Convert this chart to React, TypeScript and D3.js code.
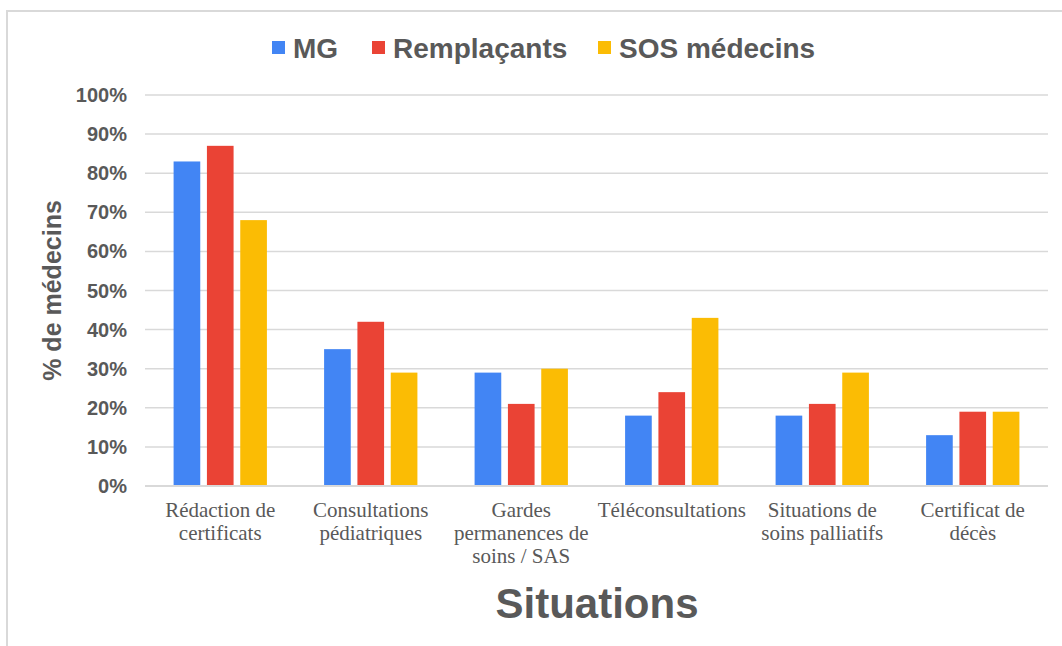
import React, { useRef, useEffect } from "react";
import * as d3 from "d3";

// data
const categories = [
  ["Rédaction de", "certificats"],
  ["Consultations", "pédiatriques"],
  ["Gardes", "permanences de", "soins / SAS"],
  ["Téléconsultations"],
  ["Situations de", "soins palliatifs"],
  ["Certificat de", "décès"],
];
const seriesNames = ["MG", "Remplaçants", "SOS médecins"];
const mgValues = [83, 35, 29, 18, 18, 13];
const remplacantsValues = [87, 42, 21, 24, 21, 19];
const sosValues = [68, 29, 30, 43, 29, 19];
const yTicks = [0, 10, 20, 30, 40, 50, 60, 70, 80, 90, 100];
const colors = ["#4285F4", "#EA4335", "#FBBC04"];

const W = 1062, H = 646;
const margin = { left: 145, right: 14, top: 95, bottom: 160 };

const App = () => {
  const svgRef = useRef(null);

  useEffect(() => {
    const svg = d3.select(svgRef.current);
    svg.selectAll("*").remove();
    const series = [mgValues, remplacantsValues, sosValues];
    const x0 = d3.scaleBand()
      .domain(d3.range(categories.length).map(String))
      .range([margin.left, W - margin.right])
      .paddingInner(0.38)
      .paddingOuter(0.19);
    const x1 = d3.scaleBand()
      .domain(d3.range(series.length).map(String))
      .range([0, x0.bandwidth()])
      .paddingInner(0.2);
    const y = d3.scaleLinear().domain([0, 100]).range([H - margin.bottom, margin.top]);

    // frame
    svg.append("path")
      .attr("d", `M7,${H} V11 H${W}`)
      .attr("fill", "none")
      .attr("stroke", "#d9d9d9")
      .attr("stroke-width", 2);

    // grid
    svg.append("g").selectAll("line")
      .data(yTicks)
      .enter().append("line")
      .attr("x1", margin.left).attr("x2", W - margin.right)
      .attr("y1", d => y(d)).attr("y2", d => y(d))
      .attr("stroke", "#d9d9d9").attr("stroke-width", d => d === 0 ? 2 : 1.5);

    svg.append("g").selectAll("text")
      .data(yTicks)
      .enter().append("text")
      .attr("x", 127).attr("y", d => y(d))
      .attr("dy", "0.35em")
      .attr("text-anchor", "end")
      .attr("font-family", "Liberation Sans, Arial, sans-serif")
      .attr("font-weight", "bold")
      .attr("font-size", 20)
      .attr("fill", "#595959")
      .text(d => d + "%");

    // bars
    const groups = svg.append("g").selectAll("g")
      .data(categories)
      .enter().append("g")
      .attr("transform", (d, i) => `translate(${x0(String(i))},0)`);
    groups.selectAll("rect")
      .data((d, i) => series.map((s, j) => ({ j, v: s[i] })))
      .enter().append("rect")
      .attr("x", d => x1(String(d.j)))
      .attr("width", x1.bandwidth())
      .attr("y", d => y(d.v))
      .attr("height", d => y(0) - y(d.v) - 1)
      .attr("fill", d => colors[d.j]);

    // category labels
    groups.append("text")
      .attr("x", x0.bandwidth() / 2)
      .attr("y", 517)
      .attr("text-anchor", "middle")
      .attr("font-family", "Liberation Serif, Times New Roman, serif")
      .attr("font-size", 21)
      .attr("fill", "#595959")
      .selectAll("tspan")
      .data(d => d)
      .enter().append("tspan")
      .attr("x", x0.bandwidth() / 2)
      .attr("dy", (d, i) => i === 0 ? 0 : 23)
      .text(d => d);

    // axis titles
    svg.append("text")
      .attr("transform", `translate(61,${(y(0) + y(100)) / 2}) rotate(-90)`)
      .attr("text-anchor", "middle")
      .attr("font-family", "Liberation Sans, Arial, sans-serif")
      .attr("font-weight", "bold")
      .attr("font-size", 25)
      .attr("fill", "#595959")
      .text("% de médecins");

    svg.append("text")
      .attr("x", 597).attr("y", 618)
      .attr("text-anchor", "middle")
      .attr("font-family", "Liberation Sans, Arial, sans-serif")
      .attr("font-weight", "bold")
      .attr("font-size", 42)
      .attr("fill", "#595959")
      .text("Situations");

    // legend
    const legendX = [272, 372, 598];
    const legend = svg.append("g").selectAll("g")
      .data(seriesNames)
      .enter().append("g")
      .attr("transform", (d, i) => `translate(${legendX[i]},41)`);
    legend.append("rect")
      .attr("width", 13).attr("height", 13)
      .attr("fill", (d, i) => colors[i]);
    legend.append("text")
      .attr("x", 21).attr("y", 16.5)
      .attr("font-family", "Liberation Sans, Arial, sans-serif")
      .attr("font-weight", "bold")
      .attr("font-size", 28)
      .attr("fill", "#595959")
      .text(d => d);
  }, []);

  return (
    <svg ref={svgRef} width={W} height={H}
      style={{ position: "absolute", left: 0, top: 0, background: "#fff" }} />
  );
};

export default App;
